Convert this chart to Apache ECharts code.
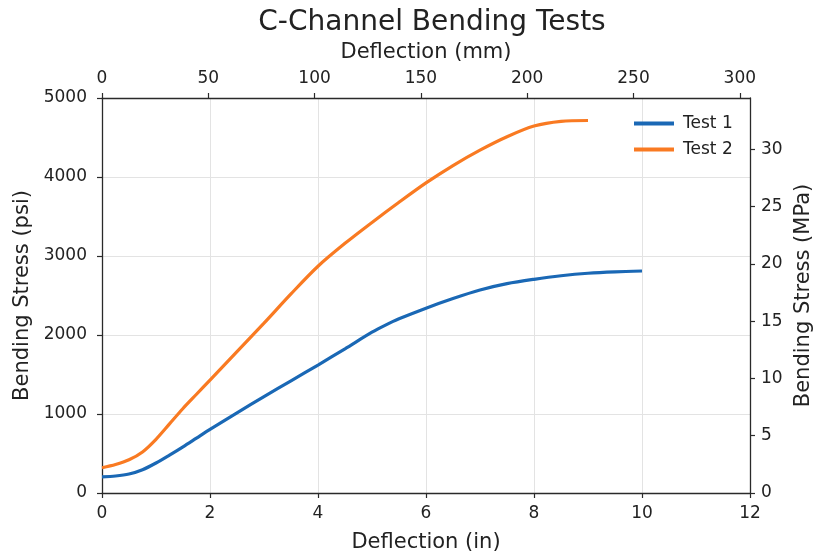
<!DOCTYPE html>
<html>
<head>
<meta charset="utf-8">
<script src="https://cdn.jsdelivr.net/npm/echarts@6/dist/echarts.min.js"></script>
<style>
html,body{margin:0;padding:0;background:#fff;}
#chart{width:815px;height:556px;}
</style>
</head>
<body>
<div id="chart"></div>
<script>
// Data (deflection in inches, bending stress in psi)
const test1X = [0, 0.25, 0.5, 0.75, 1.0, 1.25, 1.5, 1.75, 2.0, 2.5, 3.0, 3.5, 4.0, 4.5, 5.0, 5.25, 5.5, 6.0, 6.5, 7.0, 7.5, 8.0, 8.5, 9.0, 9.5, 10.0];
const test1Y = [205, 215, 240, 295, 380, 480, 585, 695, 805, 1015, 1220, 1420, 1620, 1825, 2035, 2125, 2205, 2340, 2462, 2570, 2650, 2705, 2750, 2782, 2800, 2810];
const test2X = [0, 0.25, 0.5, 0.75, 1.0, 1.25, 1.5, 1.75, 2.0, 2.5, 3.0, 3.5, 4.0, 4.5, 5.0, 5.5, 6.0, 6.5, 7.0, 7.5, 8.0, 8.5, 9.0];
const test2Y = [320, 360, 420, 520, 680, 875, 1070, 1250, 1430, 1790, 2150, 2520, 2870, 3160, 3425, 3680, 3925, 4145, 4340, 4510, 4645, 4705, 4715];
const seriesNames = ['Test 1', 'Test 2'];
const title = 'C-Channel Bending Tests';
const bottomAxisName = 'Deflection (in)';
const topAxisName = 'Deflection (mm)';
const leftAxisName = 'Bending Stress (psi)';
const rightAxisName = 'Bending Stress (MPa)';
const xMaxIn = 12, yMaxPsi = 5000;
const IN_TO_MM = 25.4, PSI_TO_MPA = 0.00689476;

const FONT = 'DejaVu Sans';
const TXT = '#222';
const AX = '#2a2a2a';

function pairs(xs, ys){ return xs.map((x,i)=>[x, ys[i]]); }
function niceFmt(step){ return v => (Math.abs(v/step - Math.round(v/step)) < 1e-6 ? String(Math.round(v)) : ''); }

function axisCommon(){
  return {
    axisLine:{show:true, onZero:false, lineStyle:{color:AX, width:1.3}},
    axisTick:{show:true, inside:false, length:5, lineStyle:{color:AX, width:1.2}},
    nameTextStyle:{fontFamily:FONT, fontSize:21, color:TXT},
  };
}

const chart = echarts.init(document.getElementById('chart'), null, {renderer:'canvas'});
chart.setOption({
  animation:false,
  backgroundColor:'#fff',
  title:{text:title, left:427, textAlign:'center', top:4,
    textStyle:{fontFamily:FONT, fontSize:28, fontWeight:'normal', color:TXT}},
  grid:{left:102, right:65, top:98, bottom:63, containLabel:false, outerBoundsMode:'none'},
  legend:{
    data:seriesNames, orient:'vertical', left:629, top:110, itemWidth:40, itemHeight:4, itemGap:9,
    icon:'rect',
    textStyle:{fontFamily:FONT, fontSize:17, color:TXT, padding:[0,0,0,4]}
  },
  xAxis:[
    Object.assign(axisCommon(), {
      type:'value', position:'bottom', min:0, max:xMaxIn, interval:2,
      name:bottomAxisName, nameLocation:'middle', nameGap:39,
      axisLabel:{fontFamily:FONT, fontSize:17, color:TXT, margin:12, formatter:niceFmt(2)},
      splitLine:{show:true, lineStyle:{color:'#e3e3e3', width:1}}
    }),
    Object.assign(axisCommon(), {
      type:'value', position:'top', min:0, max:xMaxIn*IN_TO_MM, interval:50,
      name:topAxisName, nameLocation:'middle', nameGap:35,
      axisLabel:{fontFamily:FONT, fontSize:17, color:TXT, margin:11, formatter:niceFmt(50), showMaxLabel:false},
      splitLine:{show:false}
    })
  ],
  yAxis:[
    Object.assign(axisCommon(), {
      type:'value', position:'left', min:0, max:yMaxPsi, interval:1000,
      name:leftAxisName, nameLocation:'middle', nameGap:69, nameRotate:90,
      axisLabel:{fontFamily:FONT, fontSize:17, color:TXT, margin:15, formatter:niceFmt(1000)},
      splitLine:{show:true, lineStyle:{color:'#e3e3e3', width:1}}
    }),
    Object.assign(axisCommon(), {
      type:'value', position:'right', min:0, max:yMaxPsi*PSI_TO_MPA, interval:5,
      name:rightAxisName, nameLocation:'middle', nameGap:42, nameRotate:90,
      axisLabel:{fontFamily:FONT, fontSize:17, color:TXT, margin:11, formatter:niceFmt(5), showMaxLabel:false},
      splitLine:{show:false}
    })
  ],
  series:[
    {name:seriesNames[0], type:'line', xAxisIndex:0, yAxisIndex:0, data:pairs(test1X, test1Y),
     smooth:0.3, showSymbol:false, lineStyle:{width:3.2, color:'#1a68b5'}, itemStyle:{color:'#1a68b5'}},
    {name:seriesNames[1], type:'line', xAxisIndex:0, yAxisIndex:0, data:pairs(test2X, test2Y),
     smooth:0.3, showSymbol:false, lineStyle:{width:3.2, color:'#f97a22'}, itemStyle:{color:'#f97a22'}}
  ]
});
</script>
</body>
</html>
